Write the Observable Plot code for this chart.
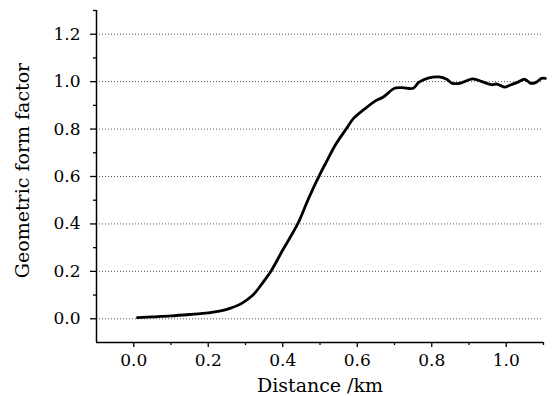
<!DOCTYPE html>
<html>
<head>
<meta charset="utf-8">
<script src="https://cdn.jsdelivr.net/npm/d3@7"></script>
<script src="https://cdn.jsdelivr.net/npm/@observablehq/plot@0.6"></script>
<style>
  html, body { margin: 0; padding: 0; background: #fff; }
  #chart svg { display: block; }
</style>
</head>
<body>
<div id="chart"></div>
<script>
// Distance (km) and geometric form factor
const distance = [0.01, 0.05, 0.10, 0.15, 0.20, 0.23, 0.26, 0.29, 0.32, 0.35, 0.37, 0.40, 0.44, 0.47, 0.50, 0.52, 0.54, 0.57, 0.59, 0.62, 0.65, 0.67, 0.70, 0.72, 0.75, 0.765, 0.79, 0.82, 0.84, 0.855, 0.875, 0.91, 0.935, 0.96, 0.975, 0.995, 1.01, 1.03, 1.05, 1.065, 1.08, 1.095, 1.105];
const formFactor = [0.005, 0.008, 0.012, 0.018, 0.025, 0.032, 0.045, 0.065, 0.100, 0.160, 0.205, 0.290, 0.400, 0.510, 0.610, 0.670, 0.730, 0.800, 0.845, 0.885, 0.920, 0.935, 0.972, 0.975, 0.972, 0.997, 1.015, 1.020, 1.010, 0.993, 0.993, 1.012, 1.000, 0.987, 0.990, 0.977, 0.985, 0.997, 1.010, 0.993, 0.997, 1.014, 1.014];

const xTicks = [0.0, 0.2, 0.4, 0.6, 0.8, 1.0];
const xMinorTicks = [0.1, 0.3, 0.5, 0.7, 0.9, 1.1];
const yTicks = [0.0, 0.2, 0.4, 0.6, 0.8, 1.0, 1.2];
const yMinorTicks = [0.1, 0.3, 0.5, 0.7, 0.9, 1.1, 1.3];
const xLabel = "Distance /km";
const yLabel = "Geometric form factor";

const data = distance.map((d, i) => ({x: d, y: formFactor[i]}));
const fmt = d3.format(".1f");

const chart = Plot.plot({
  width: 552,
  height: 396,
  marginLeft: 96,
  marginRight: 9,
  marginTop: 10,
  marginBottom: 54,
  style: {fontFamily: "DejaVu Serif", fontSize: "17px", color: "#000", background: "#fff"},
  x: {domain: [-0.1, 1.1]},
  y: {domain: [-0.1, 1.3]},
  marks: [
    Plot.gridY(yTicks, {stroke: "#555", strokeOpacity: 1, strokeWidth: 1, strokeDasharray: "1,2"}),
    Plot.axisY(yTicks, {tickSize: 6, tickPadding: 10, tickFormat: fmt, label: null, fontSize: 17, strokeWidth: 1.3}),
    Plot.axisY(yMinorTicks, {tickSize: 3, text: null, label: null, strokeWidth: 1.3}),
    Plot.axisX(xTicks, {tickSize: 5, tickPadding: 6, tickFormat: fmt, label: null, fontSize: 17, strokeWidth: 1.3}),
    Plot.axisX(xMinorTicks, {tickSize: 3, text: null, label: null, strokeWidth: 1.3}),
    Plot.ruleX([-0.1], {stroke: "#000", strokeWidth: 1.5}),
    Plot.ruleY([-0.1], {stroke: "#000", strokeWidth: 1.5}),
    Plot.line(data, {x: "x", y: "y", stroke: "#000", strokeWidth: 2.8, curve: "catmull-rom"}),
    Plot.text([yLabel], {text: d => d, frameAnchor: "left", textAnchor: "middle", lineAnchor: "middle", rotate: -90, dx: -74, dy: -6, fontSize: 19}),
    Plot.text([xLabel], {text: d => d, frameAnchor: "bottom", textAnchor: "middle", lineAnchor: "middle", dy: 43, fontSize: 19})
  ]
});
document.getElementById("chart").append(chart);
</script>
</body>
</html>
